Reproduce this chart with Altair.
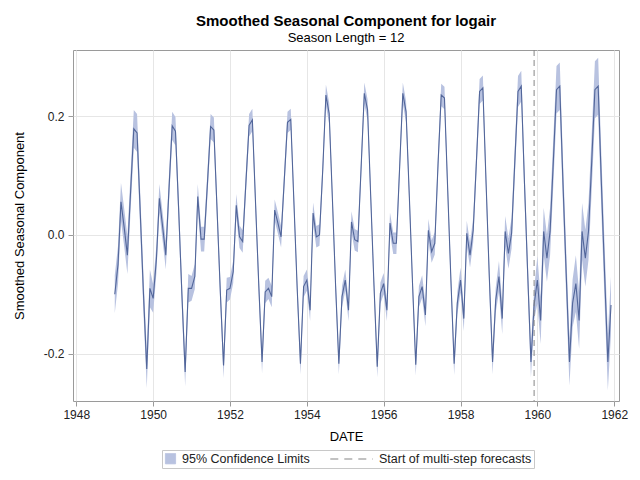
import altair as alt
import pandas as pd

# Smoothed seasonal component, one row per year (Jan..Dec)
years = list(range(1949, 1962))
seasonal_by_year = [
    [-0.100, -0.050, 0.056, 0.012, -0.034, 0.075, 0.179, 0.172, 0.035, -0.100, -0.226, -0.090],  # 1949
    [-0.107, -0.040, 0.062, 0.014, -0.034, 0.080, 0.184, 0.175, 0.040, -0.100, -0.231, -0.090],  # 1950
    [-0.090, -0.070, 0.065, -0.007, -0.007, 0.087, 0.183, 0.177, 0.040, -0.095, -0.220, -0.093],  # 1951
    [-0.090, -0.062, 0.050, -0.003, -0.011, 0.090, 0.185, 0.194, 0.050, -0.085, -0.214, -0.096],  # 1952
    [-0.090, -0.104, 0.042, 0.020, -0.003, 0.095, 0.190, 0.195, 0.050, -0.090, -0.217, -0.087],  # 1953
    [-0.076, -0.127, 0.037, -0.003, 0.000, 0.110, 0.236, 0.205, 0.060, -0.085, -0.217, -0.104],  # 1954
    [-0.076, -0.127, 0.022, -0.008, -0.011, 0.115, 0.239, 0.211, 0.060, -0.085, -0.222, -0.098],  # 1955
    [-0.082, -0.127, 0.020, -0.014, -0.014, 0.115, 0.239, 0.208, 0.065, -0.080, -0.219, -0.104],  # 1956
    [-0.087, -0.135, 0.008, -0.028, -0.014, 0.120, 0.236, 0.231, 0.075, -0.075, -0.217, -0.115],  # 1957
    [-0.076, -0.141, 0.003, -0.034, 0.008, 0.125, 0.242, 0.248, 0.085, -0.070, -0.214, -0.110],  # 1958
    [-0.070, -0.141, 0.006, -0.031, 0.003, 0.125, 0.242, 0.251, 0.085, -0.065, -0.214, -0.118],  # 1959
    [-0.076, -0.144, 0.006, -0.039, 0.006, 0.125, 0.245, 0.251, 0.085, -0.065, -0.214, -0.115],  # 1960
    [-0.082, -0.144, 0.006, -0.039, 0.006, 0.125, 0.245, 0.251, 0.085, -0.065, -0.214, -0.118],  # 1961
]
# half-width of the 95% confidence band, per year
ci_halfwidth = [0.032, 0.024, 0.021, 0.019, 0.018, 0.018, 0.018, 0.018, 0.019, 0.021, 0.026, 0.040, 0.048]

forecast_start = "1959-12-01"
band_label = "95% Confidence Limits"
rule_label = "Start of multi-step forecasts"
x_tick_years = [1948, 1950, 1952, 1954, 1956, 1958, 1960, 1962]
y_tick_values = [-0.2, 0.0, 0.2]

rows = []
for y, vals, hw in zip(years, seasonal_by_year, ci_halfwidth):
    for m, v in enumerate(vals, start=1):
        rows.append({"date": f"{y}-{m:02d}-01", "value": v,
                     "lower": v - hw, "upper": v + hw, "leg": band_label})
df = pd.DataFrame(rows)
df_rule = pd.DataFrame({"date": [forecast_start], "leg": [rule_label]})

LINE = "#52669a"
BAND = "#b8c2e0"
RULE = "#858585"

x_scale = alt.Scale(type="utc", domain=[alt.DateTime(year=1947, month=12, date=1, utc=True),
                                         alt.DateTime(year=1962, month=2, date=15, utc=True)])
x_axis = alt.Axis(values=[alt.DateTime(year=yy, month=1, date=1, utc=True) for yy in x_tick_years],
                  format="%Y", formatType="utc", title="DATE", labelPadding=3, titlePadding=10)
y_scale = alt.Scale(domain=[-0.28, 0.312], nice=False, zero=False)
y_axis = alt.Axis(values=y_tick_values, title="Smoothed Seasonal Component",
                  labelExpr="datum.value < 0 ? '-' + format(-datum.value, '.1f') : format(datum.value, '.1f')",
                  labelPadding=4, titlePadding=17)

is_rule = f"datum.value === '{rule_label}'"
legend = alt.Legend(
    title=None, orient="none", legendX=89, legendY=400, direction="horizontal",
    strokeColor="#c8c8c8", padding=2, labelFontSize=12.5, labelColor="#222222",
    symbolSize=144, columnPadding=18, labelOffset=5,
    symbolType={"expr": f"{is_rule} ? 'M-6.2,0H0.9' : 'M-0.85,-0.85H0.85V0.85H-0.85Z'"},
    symbolDash={"expr": f"{is_rule} ? [8, 6] : [1, 0]"},
    symbolStrokeColor={"expr": f"{is_rule} ? '{RULE}' : '{LINE}'"},
    symbolFillColor={"expr": f"{is_rule} ? 'transparent' : '{BAND}'"},
    symbolStrokeWidth=1, symbolOpacity=1,
)
color = alt.Color("leg:N", scale=alt.Scale(domain=[band_label, rule_label], range=[BAND, RULE]),
                  legend=legend)

band = alt.Chart(df).mark_area(opacity=1).encode(
    x=alt.X("date:T", scale=x_scale, axis=x_axis),
    y=alt.Y("lower:Q", scale=y_scale, axis=y_axis),
    y2="upper:Q",
    color=color,
)
line = alt.Chart(df).mark_line(color=LINE, strokeWidth=1.1).encode(
    x="date:T", y="value:Q")
rule = alt.Chart(df_rule).mark_rule(strokeDash=[6, 4], strokeWidth=1).encode(
    x="date:T", color=color)

chart = alt.layer(band, line, rule).properties(
    width=546, height=351,
    padding={"left": 65, "top": 42, "right": 13, "bottom": 71},
    autosize=alt.AutoSizeParams(type="none"),
    title=alt.Title("Smoothed Seasonal Component for logair", subtitle="Season Length = 12",
                    fontSize=15, fontWeight="bold", color="black",
                    subtitleFontSize=13, subtitleColor="black", subtitlePadding=3,
                    offset=5, anchor="middle"),
).configure(font="Liberation Sans").configure_view(stroke="#9a9a9a", strokeWidth=1).configure_axis(
    domain=False, gridColor="#e6e6e6", tickColor="#9a9a9a", tickSize=5,
    labelFontSize=12, labelColor="#222222", titleFontSize=13, titleFontWeight="normal",
    titleColor="black",
)

chart.save("out.html", embed_options={"renderer": "svg", "actions": False})
